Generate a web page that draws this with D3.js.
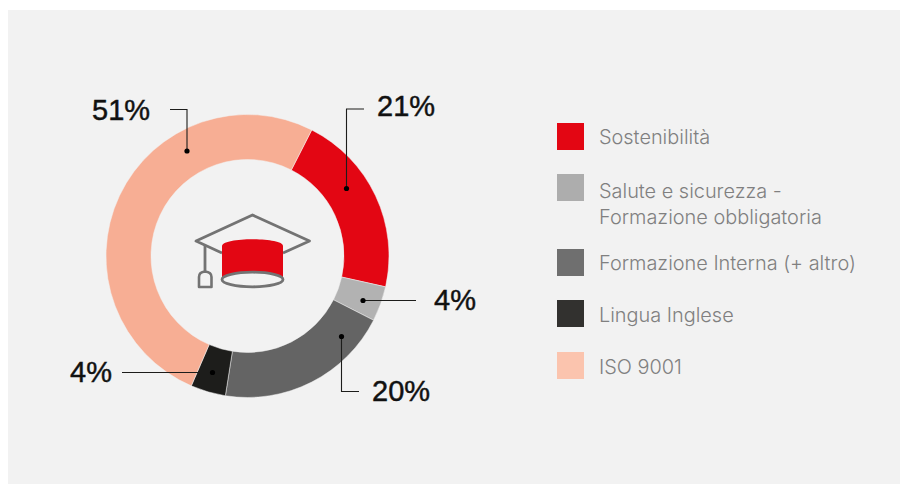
<!DOCTYPE html>
<html>
<head>
<meta charset="utf-8">
<script src="https://cdn.jsdelivr.net/npm/d3@7"></script>
<style>
  html, body { margin: 0; padding: 0; background: #fff; }
  svg { display: block; }
</style>
</head>
<body>
<div id="chart"></div>
<script>
// data
var categories = ["Sostenibilità", "Salute e sicurezza", "Formazione Interna", "Lingua Inglese", "ISO 9001"];
var shares = [21, 4, 20, 4, 51];
var labels = ["21%", "4%", "20%", "4%", "51%"];
var legendLines = [
  ["Sostenibilità"],
  ["Salute e sicurezza -", "Formazione obbligatoria"],
  ["Formazione Interna (+ altro)"],
  ["Lingua Inglese"],
  ["ISO 9001"]
];

// the ring is a bit darker than the legend swatches in the original
var ringColors = ["#e30613", "#b2b2b2", "#646464", "#1d1d1b", "#f7ae94"];
var legendColors = ["#e30613", "#adadad", "#6f6f6f", "#32312f", "#fbc4ae"];

var svgWidth = 901;
var svgHeight = 484;
var cx = 247.5;
var cy = 256;
var outerR = 141.5;
var innerR = 96.5;
var startAngle = 27 * Math.PI / 180;

var svg = d3.select("#chart").append("svg")
  .attr("width", svgWidth)
  .attr("height", svgHeight);

// panel
svg.append("rect")
  .attr("x", 8).attr("y", 10)
  .attr("width", 892).attr("height", 474)
  .attr("fill", "#f2f2f2");

// ring
var pie = d3.pie().sort(null)
  .startAngle(startAngle)
  .endAngle(startAngle + 2 * Math.PI);
var arc = d3.arc().innerRadius(innerR).outerRadius(outerR);

var ring = svg.append("g").attr("transform", `translate(${cx}, ${cy})`);
ring.selectAll("path")
  .data(pie(shares))
  .enter()
  .append("path")
  .attr("d", arc)
  .attr("fill", (d, i) => ringColors[i])
  .attr("stroke", "#f2f2f2")
  .attr("stroke-width", 0.5);

// leaders, same order as the slices. hand placed like in the original
var leaders = [
  { pts: [[346.5, 188.5], [346.5, 109], [364, 109]], tx: 377, ty: 116 },
  { pts: [[363, 300.5], [416, 300.5]], tx: 434, ty: 310 },
  { pts: [[341.5, 336.5], [341.5, 391.5], [359, 391.5]], tx: 372, ty: 401 },
  { pts: [[212.5, 372.5], [122, 372.5]], tx: 70, ty: 382 },
  { pts: [[187, 151], [187, 109.5], [170, 109.5]], tx: 92, ty: 120 }
];
var line = d3.line();
var leaderGroup = svg.append("g");

leaderGroup.selectAll("path")
  .data(leaders)
  .enter()
  .append("path")
  .attr("d", d => line(d.pts))
  .attr("fill", "none")
  .attr("stroke", "#1d1d1b")
  .attr("stroke-width", 1.1);

leaderGroup.selectAll("circle")
  .data(leaders)
  .enter()
  .append("circle")
  .attr("cx", d => d.pts[0][0])
  .attr("cy", d => d.pts[0][1])
  .attr("r", 2.6)
  .attr("fill", "#000");

leaderGroup.selectAll("text")
  .data(leaders)
  .enter()
  .append("text")
  .attr("x", d => d.tx)
  .attr("y", d => d.ty)
  .attr("font-family", "'Liberation Sans', sans-serif")
  .attr("font-size", 29)
  .attr("fill", "#111")
  .attr("stroke", "#111")
  .attr("stroke-width", 0.45)
  .text((d, i) => labels[i]);

// graduation cap in the middle
var cap = svg.append("g");
var capGrey = "#737373";
cap.append("path")
  .attr("d", "M222 253 L196 241 L252.5 215 L309.5 241 L283 253")
  .attr("fill", "none").attr("stroke", capGrey)
  .attr("stroke-width", 2.8).attr("stroke-linejoin", "round");
cap.append("path")
  .attr("d", "M222 246 C222 237 283 237 283 246 L283 280 L222 280 Z")
  .attr("fill", "#e30613");
cap.append("ellipse")
  .attr("cx", 252.5).attr("cy", 279.5)
  .attr("rx", 30.5).attr("ry", 7.3)
  .attr("fill", "#f2f2f2").attr("stroke", capGrey).attr("stroke-width", 2.8);
cap.append("path")
  .attr("d", "M205 245 L205 272")
  .attr("stroke", capGrey).attr("stroke-width", 2.8);
cap.append("path")
  .attr("d", "M199 287 L199 277 Q199 272 205 271.5 Q211.5 272 211.5 277 L211.5 287 Z")
  .attr("fill", "none").attr("stroke", capGrey)
  .attr("stroke-width", 2.6).attr("stroke-linejoin", "round");

// legend
var legendTops = [123, 174, 249, 300, 352];
var legendBaselines = [20.5, 23.5, 21, 21.5, 21.5];
var legend = svg.append("g").selectAll("g")
  .data(categories)
  .enter()
  .append("g")
  .attr("transform", (d, i) => `translate(557, ${legendTops[i]})`);

legend.append("rect")
  .attr("width", 27).attr("height", 27)
  .attr("fill", (d, i) => legendColors[i]);

legend.each(function(d, i) {
  d3.select(this).selectAll("text")
    .data(legendLines[i])
    .enter()
    .append("text")
    .attr("x", 42)
    .attr("y", (t, j) => legendBaselines[i] + j * 26)
    .attr("font-family", "Inter, sans-serif")
    .attr("font-weight", 300)
    .attr("font-size", 19.9)
    .attr("fill", "#808080")
    .text(t => t);
});
</script>
</body>
</html>
